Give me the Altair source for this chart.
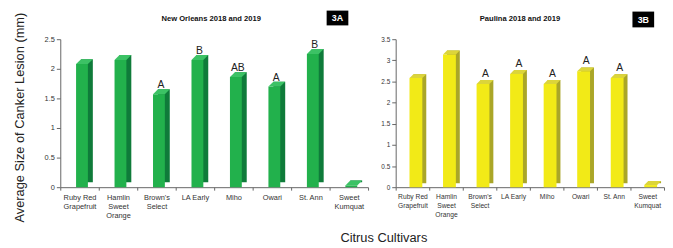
import altair as alt
import pandas as pd

FONT = "Liberation Sans"

cultivars = ["Ruby Red|Grapefruit", "Hamlin|Sweet|Orange", "Brown's|Select", "LA Early",
             "Miho", "Owari", "St. Ann", "Sweet|Kumquat"]
new_orleans = [2.08, 2.15, 1.57, 2.15, 1.86, 1.70, 2.25, 0.03]
new_orleans_letters = ["", "", "A", "B", "AB", "A", "B", ""]
paulina = [2.58, 3.14, 2.44, 2.68, 2.44, 2.74, 2.58, 0.05]
paulina_letters = ["", "", "A", "A", "A", "A", "A", ""]

y_ticks_left = [0, 0.5, 1, 1.5, 2, 2.5]
y_ticks_right = [0, 0.5, 1, 1.5, 2, 2.5, 3, 3.5]


def panel(vals, letters, ymax, yticks, W, H, title, title_x, tag, tag_box,
          front, side, top, bw, d, bo, lab_fs, ylab_fs, let_fs, let_dx, let_dy,
          ytitle=None):
    df = pd.DataFrame({"cultivar": cultivars, "value": vals, "letter": letters})
    base = alt.Chart(df)
    x = alt.X("cultivar:N", sort=None,
              scale=alt.Scale(paddingInner=0, paddingOuter=0),
              axis=alt.Axis(title=None, labelAngle=0,
                            labelExpr="split(datum.label, '|')",
                            tickBand="extent", tickSize=3,
                            labelFontSize=lab_fs, labelLineHeight=9.5,
                            labelPadding=3, labelColor="#333", labelFont=FONT,
                            domainColor="#666", tickColor="#666"))
    yaxis_kw = dict(values=yticks, format="~g", grid=False, tickSize=4,
                    labelFontSize=ylab_fs, labelColor="#333", labelFont=FONT,
                    labelPadding=2, domainColor="#666", tickColor="#666")
    if ytitle:
        yaxis_kw.update(title=ytitle, titleFontSize=13, titleFont=FONT,
                        titleFontWeight="normal", titleColor="#222",
                        titlePadding=18, titleY=H / 2 + 4)
    else:
        yaxis_kw.update(title=None)
    y = alt.Y("value:Q", scale=alt.Scale(domain=[0, ymax], nice=False),
              axis=alt.Axis(**yaxis_kw))

    side_l = base.mark_bar(width=bw, xOffset=bo + d, yOffset=-d, y2Offset=-d,
                           color=side).encode(x=x, y=y)
    front_l = base.mark_bar(width=bw, xOffset=bo, color=front).encode(x=x, y=y)

    Wt = bw + d
    s = Wt / 2
    shape = (f"M-1 {d/2/s:.4f} L{(-Wt/2 + d)/s:.4f} {-d/2/s:.4f} "
             f"L1 {-d/2/s:.4f} L{(Wt/2 - d)/s:.4f} {d/2/s:.4f} Z")
    top_l = base.mark_point(shape=shape, size=Wt * Wt, filled=True, fill=top,
                            opacity=1, strokeWidth=0, xOffset=bo + d / 2,
                            yOffset=-d / 2).encode(x=x, y=y)
    let_l = base.mark_text(fontSize=let_fs, font=FONT, color="#222",
                           baseline="alphabetic", dx=let_dx, dy=let_dy).encode(
        x=x, y=y, text="letter:N")

    tdf = pd.DataFrame({"t": [title]})
    title_l = alt.Chart(tdf).mark_text(fontSize=7.7, fontWeight="bold", font=FONT,
                                       color="#111", baseline="middle").encode(
        x=alt.value(title_x), y=alt.value(-20), text="t:N")

    gdf = pd.DataFrame({"t": [tag]})
    x0, x1, y0, y1 = tag_box
    box_l = alt.Chart(gdf).mark_rect(color="#000").encode(
        x=alt.value(x0), x2=alt.value(x1), y=alt.value(y0), y2=alt.value(y1))
    tag_l = alt.Chart(gdf).mark_text(fontSize=9, fontWeight="bold", font=FONT,
                                     color="#fff", baseline="middle").encode(
        x=alt.value((x0 + x1) / 2), y=alt.value((y0 + y1) / 2 + 0.5), text="t:N")

    layers = [side_l, front_l, top_l, let_l, title_l, box_l, tag_l]
    return layers


left_layers = panel(new_orleans, new_orleans_letters, 2.5, y_ticks_left, 312, 150,
                    "New Orleans 2018 and 2019", 153, "3A", (270, 292, -29, -14),
                    "#22b14c", "#0f7b3a", "#3cc265", 12, 5, 2.5, 7.5, 7.5, 10.5, 4.5, -6,
                    ytitle="Average Size of Canker Lesion (mm)")
xt = alt.Chart(pd.DataFrame({"t": ["Citrus Cultivars"]})).mark_text(
    fontSize=13, font=FONT, color="#222", baseline="alphabetic").encode(
    x=alt.value(328), y=alt.value(206), text="t:N")
left = alt.layer(*left_layers, xt).properties(width=312, height=150)

right_layers = panel(paulina, paulina_letters, 3.5, y_ticks_right, 272, 150,
                     "Paulina 2018 and 2019", 126, "3B", (240, 262, -28, -12),
                     "#f2ea17", "#aaa628", "#dcd53a", 13, 4, 3.5, 6.8, 6.5, 10.5, 6, -7)
right = alt.layer(*right_layers).properties(width=272, height=150)

chart = alt.hconcat(left, right, spacing=28, bounds="flush").configure_view(
    stroke=None).properties(padding={"left": 5, "top": 1, "right": 0, "bottom": 0})

chart.save("out.html", embed_options={"renderer": "svg", "actions": False})
